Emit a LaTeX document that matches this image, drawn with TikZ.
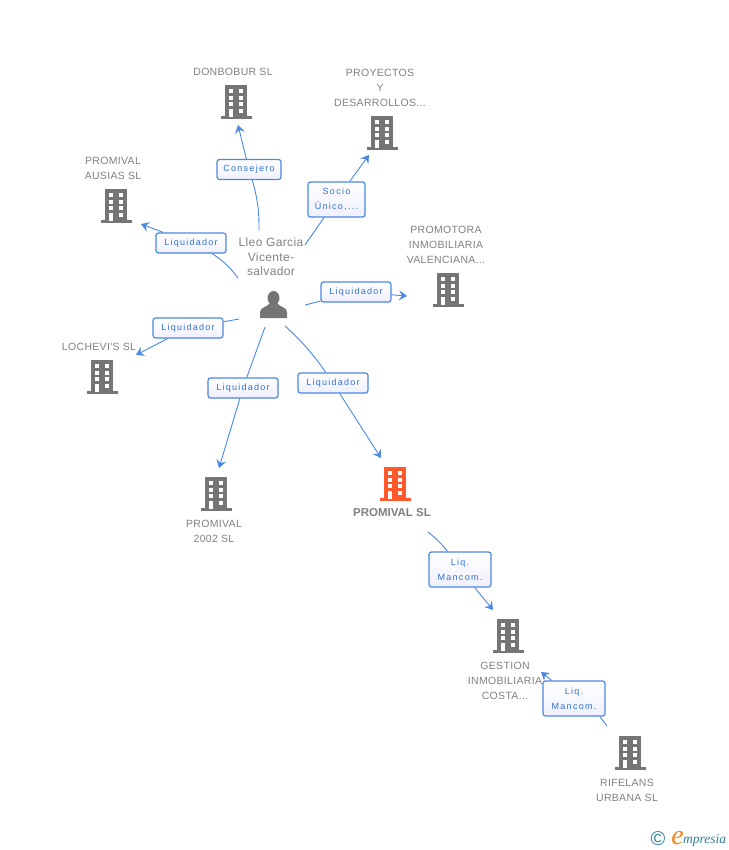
\documentclass[tikz,border=0pt]{standalone}
\usepackage{fontspec}
\usepackage{tikz}
\usetikzlibrary{arrows.meta}
\setmainfont{Liberation Sans}
\newfontfamily\rolefont[LetterSpace=14]{Liberation Sans}
\newfontfamily\namefont[LetterSpace=3]{Liberation Sans}
\newfontfamily\logofont[ItalicFont=Liberation Serif Italic]{Liberation Serif}
\definecolor{iconGray}{HTML}{757575}
\definecolor{iconOrange}{HTML}{FF5A2B}
\definecolor{textGray}{HTML}{808080}
\definecolor{linkBlue}{HTML}{4A88E2}
\definecolor{roleBlue}{HTML}{2F74D6}
\definecolor{logoTeal}{HTML}{2F7F9A}
\definecolor{logoOrange}{HTML}{F5851F}
\tikzstyle{company} = [text=textGray, align=center, inner sep=0pt, font=\namefont\fontsize{10.5}{15}\selectfont]
\tikzstyle{role} = [rectangle, rounded corners=2.5pt, draw=linkBlue, line width=1.2pt, top color=white, bottom color=blue!6, text=roleBlue, align=center, inner sep=0pt, font=\rolefont\fontsize{9}{15}\selectfont]
\tikzstyle{link} = [draw=linkBlue, line width=0.9pt]
\tikzstyle{arrow} = [link, -{Stealth[length=8pt,width=10pt,inset=3pt]}]
\tikzset{
  building/.pic={
    \fill[#1] (-11,-17) rectangle (11,15);
    \fill[#1] (-15,14) rectangle (16,17);
    \foreach \wy in {-13,-6.4,0,6.7} {
      \fill[white] (-7,\wy) rectangle ++(4.2,4.2);
      \fill[white] (2.6,\wy) rectangle ++(4.4,4.2);
    }
    \fill[white] (-7,6.7) rectangle (-2.8,15);
  }
}
\begin{document}
\begin{tikzpicture}[x=1pt, y=-1pt]
    \useasboundingbox (0,0) rectangle (728,850);

    % companies
    \pic at (236,102) {building=iconGray};
    \pic at (382,133) {building=iconGray};
    \pic at (116,206) {building=iconGray};
    \pic at (448,290) {building=iconGray};
    \pic at (102,377) {building=iconGray};
    \pic at (216,494) {building=iconGray};
    \pic at (395,484) {building=iconOrange};
    \pic at (508,636) {building=iconGray};
    \pic at (630,753) {building=iconGray};

    \node(donbobur)[company] at (233,71.5) {DONBOBUR SL};
    \node(proyectos)[company] at (380,87.5) {PROYECTOS\\Y\\DESARROLLOS...};
    \node(ausias)[company] at (113,168) {PROMIVAL\\AUSIAS SL};
    \node(promotora)[company] at (446,244.5) {PROMOTORA\\INMOBILIARIA\\VALENCIANA...};
    \node(lochevi)[company] at (99,346.5) {LOCHEVI'S SL};
    \node(promival2002)[company] at (214,531) {PROMIVAL\\2002 SL};
    \node(promival)[company, font=\bfseries\fontsize{11.5}{15}\selectfont] at (392,512.5) {PROMIVAL SL};
    \node(gestion)[company] at (505,680.5) {GESTION\\INMOBILIARIA\\COSTA...};
    \node(rifelans)[company] at (627,790) {RIFELANS\\URBANA SL};

    % person
    \node(lleo)[company, font=\namefont\fontsize{12}{14.5}\selectfont] at (271,257) {Lleo Garcia\\Vicente-\\salvador};
    \fill[iconGray] (273.5,298) circle [x radius=6, y radius=7];
    \fill[iconGray] (260,318) -- (260,312) .. controls (260,307) and (268,307) .. (270,303) -- (277,303) .. controls (279,307) and (287,307) .. (287,312) -- (287,318) -- cycle;

    % roles
    \node(consejero)[role, minimum width=64pt, minimum height=20pt] at (249,169.5) {Consejero};
    \node(socio)[role, minimum width=57pt, minimum height=35pt] at (336.5,199.5) {Socio\\Único,...};
    \node(liqausias)[role, minimum width=70pt, minimum height=20pt] at (191,243) {Liquidador};
    \node(liqpromotora)[role, minimum width=70pt, minimum height=20pt] at (356,292) {Liquidador};
    \node(liqlochevi)[role, minimum width=70pt, minimum height=20pt] at (188,328) {Liquidador};
    \node(liq2002)[role, minimum width=70pt, minimum height=20pt] at (243,388) {Liquidador};
    \node(liqpromival)[role, minimum width=70pt, minimum height=20pt] at (333,383) {Liquidador};
    \node(mancom1)[role, minimum width=62pt, minimum height=35pt] at (460,569.5) {Liq.\\Mancom.};
    \node(mancom2)[role, minimum width=62pt, minimum height=35pt] at (574,698.5) {Liq.\\Mancom.};

    % connector ends
    \coordinate(s1) at (259,231);
    \coordinate(e1) at (238,125);
    \coordinate(s2) at (305,245);
    \coordinate(e2) at (369,155);
    \coordinate(s3) at (238,278);
    \coordinate(e3) at (141,224);
    \coordinate(s4) at (305,305);
    \coordinate(e4) at (407,296);
    \coordinate(s5) at (239,319);
    \coordinate(e5) at (136,355);
    \coordinate(s6) at (265,327);
    \coordinate(e6) at (219,468);
    \coordinate(s7) at (285,326);
    \coordinate(e7) at (381,458);
    \coordinate(s8) at (428,532);
    \coordinate(e8) at (493,610);
    \coordinate(s9) at (607,726);
    \coordinate(e9) at (541,672);

    \draw[link] (s1) to[bend right=8] (consejero);
    \draw[arrow] (consejero) -- (e1);
    \draw[link] (s2) -- (socio);
    \draw[arrow] (socio) -- (e2);
    \draw[link] (s3) to[bend right=10] (liqausias);
    \draw[arrow] (liqausias) -- (e3);
    \draw[link] (s4) -- (liqpromotora);
    \draw[arrow] (liqpromotora) -- (e4);
    \draw[link] (s5) -- (liqlochevi);
    \draw[arrow] (liqlochevi) -- (e5);
    \draw[link] (s6) -- (liq2002);
    \draw[arrow] (liq2002) -- (e6);
    \draw[link] (s7) to[bend left=6] (liqpromival);
    \draw[arrow] (liqpromival) -- (e7);
    \draw[link] (s8) to[bend left=6] (mancom1);
    \draw[arrow] (mancom1) -- (e8);
    \draw[link] (s9) -- (mancom2.-35);
    \draw[arrow] (mancom2.141) -- (e9);

    % logo
    \node(copyright)[text=logoTeal, inner sep=0pt, font=\fontsize{20}{20}\selectfont] at (658,839) {©};
    \node(logoe)[text=logoOrange, inner sep=0pt, font=\logofont\itshape\fontsize{28}{28}\selectfont] at (677.5,838) {e};
    \node(logotext)[text=logoTeal, anchor=west, inner sep=0pt, font=\logofont\itshape\fontsize{13.5}{13.5}\selectfont] at (683,840) {mpresia};
\end{tikzpicture}
\end{document}
